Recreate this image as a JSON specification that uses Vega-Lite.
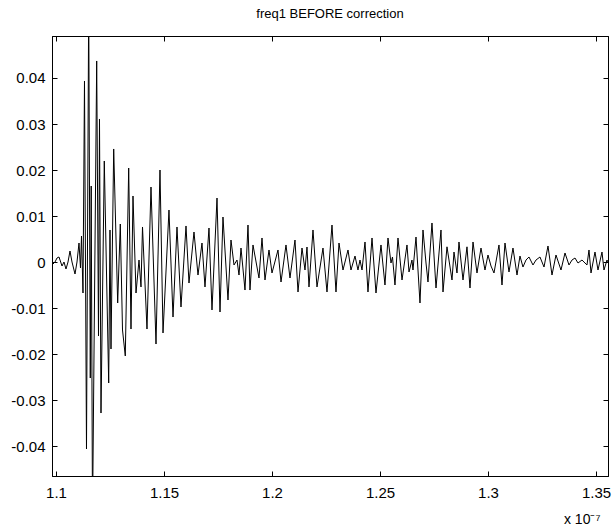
{
  "$schema": "https://vega.github.io/schema/vega-lite/v6.json",
  "autosize": {"type": "none"},
  "padding": {"left": 52, "top": 36, "right": 5, "bottom": 55},
  "width": 556,
  "height": 440,
  "background": "white",
  "title": {"text": "freq1 BEFORE correction", "font": "Liberation Sans", "fontSize": 13, "fontWeight": "normal", "color": "black", "offset": 15},
  "data": {"values": [
    {"t": 1.09815, "v": -0.00065}, {"t": 1.09954, "v": 0}, {"t": 1.10046, "v": 0.00087}, {"t": 1.10139, "v": 0.00109},
    {"t": 1.10278, "v": -0.00087}, {"t": 1.1037, "v": 0}, {"t": 1.10463, "v": -0.00152}, {"t": 1.10556, "v": 0},
    {"t": 1.10648, "v": 0.00239}, {"t": 1.10741, "v": 0}, {"t": 1.1088, "v": -0.00261}, {"t": 1.10972, "v": 0},
    {"t": 1.11065, "v": 0.00413}, {"t": 1.11134, "v": -0.0013}, {"t": 1.11181, "v": 0.00565}, {"t": 1.1125, "v": -0.00674},
    {"t": 1.11319, "v": 0.03935}, {"t": 1.11412, "v": -0.04065}, {"t": 1.11514, "v": 0.056}, {"t": 1.11588, "v": -0.02522},
    {"t": 1.1163, "v": 0.01652}, {"t": 1.1169, "v": -0.056}, {"t": 1.11884, "v": 0.0437}, {"t": 1.11968, "v": -0.01609},
    {"t": 1.12014, "v": 0.03109}, {"t": 1.12083, "v": -0.03283}, {"t": 1.12236, "v": 0.02196}, {"t": 1.1244, "v": -0.0263},
    {"t": 1.125, "v": 0.00696}, {"t": 1.12546, "v": -0.01891}, {"t": 1.12671, "v": 0.02457}, {"t": 1.12856, "v": -0.00891},
    {"t": 1.12977, "v": 0.00826}, {"t": 1.13079, "v": -0.01478}, {"t": 1.13208, "v": -0.02043}, {"t": 1.13366, "v": 0.02043},
    {"t": 1.13472, "v": -0.01457}, {"t": 1.13565, "v": 0.01435}, {"t": 1.13704, "v": -0.00674}, {"t": 1.13843, "v": 0.00043},
    {"t": 1.13935, "v": -0.00543}, {"t": 1.14005, "v": 0.00761}, {"t": 1.14213, "v": -0.01457}, {"t": 1.14398, "v": 0.0163},
    {"t": 1.1463, "v": -0.01783}, {"t": 1.14815, "v": 0.02}, {"t": 1.14954, "v": -0.01543}, {"t": 1.15231, "v": 0.0113},
    {"t": 1.15417, "v": -0.01196}, {"t": 1.15602, "v": 0.00761}, {"t": 1.15787, "v": -0.00978}, {"t": 1.16019, "v": 0.00783},
    {"t": 1.16157, "v": -0.00457}, {"t": 1.16389, "v": 0.00652}, {"t": 1.16574, "v": -0.00283}, {"t": 1.16759, "v": 0.00413},
    {"t": 1.16898, "v": -0.00543}, {"t": 1.17083, "v": 0.00739}, {"t": 1.17222, "v": -0.01043}, {"t": 1.17454, "v": 0.01391},
    {"t": 1.17593, "v": -0.01087}, {"t": 1.17731, "v": 0.00978}, {"t": 1.17963, "v": -0.00826}, {"t": 1.18102, "v": 0.00478},
    {"t": 1.18241, "v": -0.00065}, {"t": 1.1838, "v": 0.00043}, {"t": 1.18472, "v": -0.00283}, {"t": 1.18565, "v": 0.00304},
    {"t": 1.1875, "v": -0.00609}, {"t": 1.18889, "v": 0.00804}, {"t": 1.18981, "v": -0.00609}, {"t": 1.1912, "v": 0.0037},
    {"t": 1.19398, "v": -0.00348}, {"t": 1.19537, "v": 0.00522}, {"t": 1.19676, "v": -0.00391}, {"t": 1.19861, "v": 0.00261},
    {"t": 1.2, "v": -0.00239}, {"t": 1.20278, "v": 0.00261}, {"t": 1.20417, "v": -0.00435}, {"t": 1.20648, "v": 0.0037},
    {"t": 1.20833, "v": -0.00348}, {"t": 1.21065, "v": 0.00478}, {"t": 1.21204, "v": -0.00652}, {"t": 1.21389, "v": 0.00304},
    {"t": 1.21528, "v": -0.00174}, {"t": 1.2162, "v": 0.00326}, {"t": 1.21713, "v": -0.00543}, {"t": 1.21898, "v": 0.00696},
    {"t": 1.22083, "v": -0.00543}, {"t": 1.22361, "v": 0.00304}, {"t": 1.22546, "v": -0.00652}, {"t": 1.22778, "v": 0.00804},
    {"t": 1.22963, "v": -0.00652}, {"t": 1.23102, "v": 0.00413}, {"t": 1.23287, "v": -0.00174}, {"t": 1.23519, "v": 0.00261},
    {"t": 1.23657, "v": -0.00174}, {"t": 1.23843, "v": 0.0013}, {"t": 1.23981, "v": -0.00174}, {"t": 1.24074, "v": 0.00043},
    {"t": 1.24167, "v": -0.00174}, {"t": 1.24306, "v": 0.00435}, {"t": 1.24444, "v": -0.00652}, {"t": 1.2463, "v": 0.00522},
    {"t": 1.24815, "v": -0.00674}, {"t": 1.25046, "v": 0.0037}, {"t": 1.25231, "v": -0.005}, {"t": 1.2537, "v": 0.00522},
    {"t": 1.25509, "v": -0.00022}, {"t": 1.25579, "v": 0.00109}, {"t": 1.25694, "v": -0.005}, {"t": 1.25833, "v": 0.00522},
    {"t": 1.26019, "v": -0.00391}, {"t": 1.2625, "v": 0.0037}, {"t": 1.26343, "v": -0.00217}, {"t": 1.26481, "v": 0.00043},
    {"t": 1.26528, "v": -0.00174}, {"t": 1.26667, "v": 0.00543}, {"t": 1.26852, "v": -0.00891}, {"t": 1.26991, "v": 0.00696},
    {"t": 1.2713, "v": -0.00022}, {"t": 1.27222, "v": -0.00435}, {"t": 1.27407, "v": 0.00848}, {"t": 1.27593, "v": -0.00565},
    {"t": 1.27824, "v": 0.00696}, {"t": 1.27917, "v": -0.00652}, {"t": 1.28102, "v": 0.0033}, {"t": 1.28333, "v": -0.00391},
    {"t": 1.28426, "v": 0.00217}, {"t": 1.28565, "v": -0.00239}, {"t": 1.28657, "v": 0.00435}, {"t": 1.28843, "v": -0.00391},
    {"t": 1.29028, "v": 0.0033}, {"t": 1.29167, "v": -0.00565}, {"t": 1.29306, "v": 0.00435}, {"t": 1.29491, "v": -0.00239},
    {"t": 1.29676, "v": 0.00304}, {"t": 1.29861, "v": -0.00174}, {"t": 1.3, "v": 0.00152}, {"t": 1.30139, "v": -0.00087},
    {"t": 1.30278, "v": -0.00239}, {"t": 1.30509, "v": 0.0037}, {"t": 1.30648, "v": -0.005}, {"t": 1.30787, "v": 0.00413},
    {"t": 1.30972, "v": -0.00217}, {"t": 1.31157, "v": 0.00304}, {"t": 1.31343, "v": -0.00283}, {"t": 1.31481, "v": 0.0013},
    {"t": 1.3162, "v": -0.00109}, {"t": 1.31759, "v": 0.00043}, {"t": 1.31898, "v": 0.00109}, {"t": 1.32083, "v": -0.00065},
    {"t": 1.32222, "v": 0.00043}, {"t": 1.32407, "v": 0.00109}, {"t": 1.32593, "v": -0.00109}, {"t": 1.32778, "v": 0.00348},
    {"t": 1.32963, "v": -0.00283}, {"t": 1.33148, "v": 0.00152}, {"t": 1.3338, "v": -0.00174}, {"t": 1.33565, "v": 0.00196},
    {"t": 1.3375, "v": -0.00065}, {"t": 1.33889, "v": 0.00043}, {"t": 1.34028, "v": 0.00087}, {"t": 1.34167, "v": -0.00022},
    {"t": 1.34352, "v": 0.00043}, {"t": 1.34583, "v": -0.00065}, {"t": 1.34676, "v": 0.00261}, {"t": 1.34769, "v": -0.00239},
    {"t": 1.34954, "v": 0.00217}, {"t": 1.35093, "v": -0.00174}, {"t": 1.35278, "v": 0.00217}, {"t": 1.3537, "v": -0.00174},
    {"t": 1.35509, "v": 0.00043}, {"t": 1.35556, "v": 0}
  ]},
  "layer": [
    {
      "mark": {"type": "line", "color": "black", "strokeWidth": 1, "clip": true},
      "encoding": {
        "x": {"field": "t", "type": "quantitative",
          "scale": {"domain": [1.09815, 1.35556], "nice": false, "zero": false},
          "axis": {"orient": "bottom", "values": [1.1, 1.15, 1.2, 1.25, 1.3, 1.35], "labelExpr": "'' + datum.value",
            "tickSize": -5, "labelPadding": 14, "grid": false, "title": "x 10⁻⁷", "titleX": 548, "titleAlign": "right", "titleFontSize": 14, "titleFontWeight": "normal", "titlePadding": 12}},
        "y": {"field": "v", "type": "quantitative",
          "scale": {"domain": [-0.04652, 0.04913], "nice": false, "zero": false},
          "axis": {"orient": "left", "values": [-0.04, -0.03, -0.02, -0.01, 0, 0.01, 0.02, 0.03, 0.04], "labelExpr": "'' + datum.value",
            "tickSize": -5, "labelPadding": 12, "grid": false, "title": null}}
      }
    },
    {
      "mark": {"type": "line", "strokeOpacity": 0, "clip": true},
      "encoding": {
        "x": {"field": "t", "type": "quantitative",
          "scale": {"domain": [1.09815, 1.35556], "nice": false, "zero": false},
          "axis": {"orient": "top", "values": [1.1, 1.15, 1.2, 1.25, 1.3, 1.35], "labels": false, "tickSize": -5, "grid": false, "title": null}},
        "y": {"field": "v", "type": "quantitative",
          "scale": {"domain": [-0.04652, 0.04913], "nice": false, "zero": false},
          "axis": {"orient": "right", "values": [-0.04, -0.03, -0.02, -0.01, 0, 0.01, 0.02, 0.03, 0.04], "labels": false, "tickSize": -5, "grid": false, "title": null}}
      }
    }
  ],
  "resolve": {"axis": {"x": "independent", "y": "independent"}},
  "config": {
    "font": "Liberation Sans",
    "view": {"stroke": "black", "strokeWidth": 1},
    "axis": {"domainColor": "black", "tickColor": "black", "labelColor": "black", "titleColor": "black", "labelFont": "Liberation Sans", "labelFontSize": 15, "titleFont": "Liberation Sans", "domainWidth": 1, "tickWidth": 1}
  }
}
